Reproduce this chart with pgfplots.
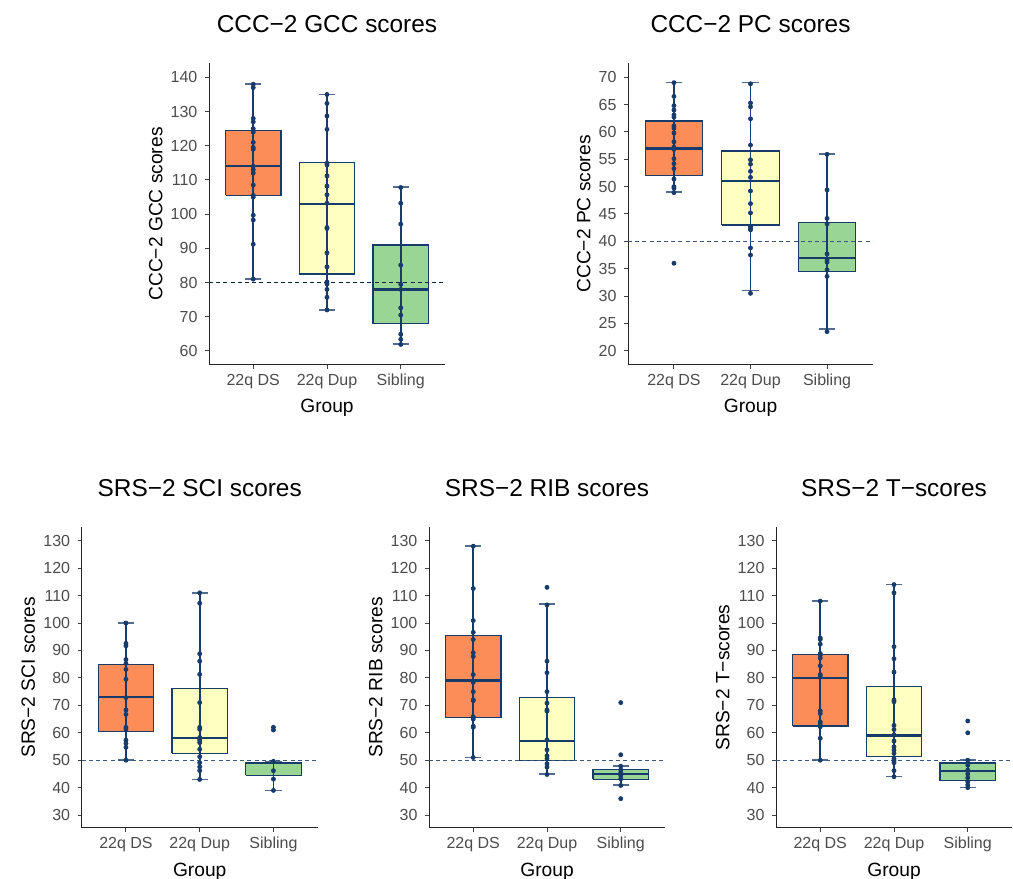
\documentclass[border=0pt]{standalone}
\usepackage{pgfplots}
\pgfplotsset{compat=1.18}
\usepackage{fontspec}
\setmainfont{Liberation Sans}
\definecolor{cDS}{HTML}{FC8D59}
\definecolor{cDup}{HTML}{FFFFBF}
\definecolor{cSib}{HTML}{99D594}
\definecolor{navy}{HTML}{173B6A}
\pgfplotsset{
  panel/.style={
    scale only axis, anchor=south west,
    axis x line*=bottom, axis y line*=left,
    axis line style={-, black!85, line width=0.5pt},
    xmin=-0.6, xmax=2.6, xtick={0,1,2}, xticklabels={22q DS,22q Dup,Sibling},
    tick align=outside, major tick length=2pt,
    tick style={black!75, line width=0.5pt},
    ticklabel style={font=\fontsize{8}{9}\selectfont, text=black!70},
    /pgf/number format/assume math mode=true,
    xticklabel style={anchor=base, yshift=-8.35pt},
    yticklabel style={anchor=east, inner sep=0pt, xshift=-3.6pt},
    xlabel={Group},
    xlabel style={font=\fontsize{9.6}{11}\selectfont, at={(axis description cs:0.5,0)}, anchor=base, yshift=-24pt},
    title style={font=\fontsize{12.2}{14}\selectfont, at={(axis description cs:0.5,1)}, anchor=base, yshift=9.3pt},
    ylabel style={font=\fontsize{9.6}{11}\selectfont, anchor=base},
  },
  capst/.style={navy!75, line width=0.8pt},
  boxst/.style={draw=navy, fill=#1, line width=0.6pt, line join=miter},
  medst/.style={navy, line width=1.2pt},
  wl/.style={navy, line width=0.9pt},
  pts/.style={only marks, mark=*, mark size=1pt, navy, mark options={draw=navy, fill=navy}},
  hl/.style={dash pattern=on 2pt off 1.6pt, line width=0.5pt, #1},
}
% args: lower whisker, q1, median, q3, upper whisker, fill colour
\newcommand\bxA[6]{%
  \addplot[capst] coordinates {(-0.11,#1) (0.11,#1)};
  \addplot[capst] coordinates {(-0.11,#5) (0.11,#5)};
  \addplot[boxst=#6] coordinates {(-0.375,#2) (0.375,#2) (0.375,#4) (-0.375,#4) (-0.375,#2)};
  \addplot[medst] coordinates {(-0.375,#3) (0.375,#3)};
  \addplot[wl] coordinates {(0,#1) (0,#5)};
}
\newcommand\bxB[6]{%
  \addplot[capst] coordinates {(0.89,#1) (1.11,#1)};
  \addplot[capst] coordinates {(0.89,#5) (1.11,#5)};
  \addplot[boxst=#6] coordinates {(0.625,#2) (1.375,#2) (1.375,#4) (0.625,#4) (0.625,#2)};
  \addplot[medst] coordinates {(0.625,#3) (1.375,#3)};
  \addplot[wl] coordinates {(1,#1) (1,#5)};
}
\newcommand\bxC[6]{%
  \addplot[capst] coordinates {(1.89,#1) (2.11,#1)};
  \addplot[capst] coordinates {(1.89,#5) (2.11,#5)};
  \addplot[boxst=#6] coordinates {(1.625,#2) (2.375,#2) (2.375,#4) (1.625,#4) (1.625,#2)};
  \addplot[medst] coordinates {(1.625,#3) (2.375,#3)};
  \addplot[wl] coordinates {(2,#1) (2,#5)};
}
\begin{document}
\begin{tikzpicture}
\path[use as bounding box] (0,0) rectangle (506.5pt,439.5pt);
% ---------- CCC-2 GCC
\begin{axis}[panel, at={(104.5pt,257pt)}, width=118pt, height=151pt,
  ymin=55.9, ymax=144.2, ytick={60,70,...,140},
  title={CCC−2 GCC scores}, ylabel={CCC−2 GCC scores},
  ylabel style={at={(axis description cs:-0.198,0.5)}}]
\bxA{81}{105.5}{114}{124.5}{138}{cDS}
\bxB{72}{82.5}{103}{115}{135}{cDup}
\bxC{62}{68}{78}{91}{108}{cSib}
\addplot[pts] coordinates {(0,138) (0,137) (0,128) (0,127) (0,125) (0,124) (0,121) (0,119.5) (0,119) (0,114) (0,113) (0,112) (0,108.5) (0,105.5) (0,105) (0,99.7) (0,98.3) (0,91.2) (0,81)};
\addplot[pts] coordinates {(1,135) (1,132.4) (1,128.7) (1,124.8) (1,114.9) (1,114.4) (1,111.2) (1,108.2) (1,105.7) (1,103.2) (1,96.1) (1,95.8) (1,88.7) (1,84.6) (1,80.2) (1,79.6) (1,78) (1,75.7) (1,72)};
\addplot[pts] coordinates {(2,107.8) (2,103.2) (2,97.1) (2,85.1) (2,79.5) (2,78) (2,72.6) (2,70.5) (2,64.9) (2,63.4) (2,61.9)};
\addplot[hl=navy!60!black] coordinates {(-0.6,80) (2.6,80)};
\end{axis}
% ---------- CCC-2 PC
\begin{axis}[panel, at={(314pt,257pt)}, width=122.5pt, height=151pt,
  ymin=17.4, ymax=72.6, ytick={20,25,...,70},
  title={CCC−2 PC scores}, ylabel={CCC−2 PC scores},
  ylabel style={at={(axis description cs:-0.154,0.5)}}]
\bxA{49}{52}{57}{62}{69}{cDS}
\bxB{31}{43}{51}{56.5}{69}{cDup}
\bxC{24}{34.5}{37}{43.5}{56}{cSib}
\addplot[pts] coordinates {(0,69) (0,66.5) (0,64.8) (0,64) (0,63.1) (0,62.7) (0,61.1) (0,60.7) (0,59.8) (0,58.2) (0,57.2) (0,56.8) (0,55.1) (0,54.2) (0,53.3) (0,51.4) (0,50) (0,49.7) (0,48.9) (0,36)};
\addplot[pts] coordinates {(1,68.8) (1,65.3) (1,64.6) (1,62.4) (1,57.6) (1,54.9) (1,54.1) (1,52.8) (1,51.7) (1,49.2) (1,46.9) (1,45.2) (1,42.7) (1,42.4) (1,42.1) (1,38.8) (1,37.5) (1,30.5)};
\addplot[pts] coordinates {(2,55.9) (2,49.4) (2,44.2) (2,43.2) (2,37.7) (2,36.6) (2,36.2) (2,34.8) (2,33.6) (2,23.5)};
\addplot[hl=navy!85] coordinates {(-0.6,40) (2.6,40)};
\end{axis}
% ---------- SRS-2 SCI
\begin{axis}[panel, at={(40.85pt,25.5pt)}, width=118pt, height=150.5pt,
  ymin=25.3, ymax=135, ytick={30,40,...,130},
  title={SRS−2 SCI scores}, ylabel={SRS−2 SCI scores},
  ylabel style={at={(axis description cs:-0.198,0.5)}}]
\bxA{50}{60.5}{73}{85}{100}{cDS}
\bxB{43}{52.5}{58}{76}{111}{cDup}
\bxC{39}{44.5}{49}{49}{49.5}{cSib}
\addplot[pts] coordinates {(0,100) (0,92.6) (0,91.7) (0,86.7) (0,85.3) (0,83.1) (0,79.5) (0,72.8) (0,68.3) (0,66.7) (0,62) (0,61.3) (0,57.3) (0,56.1) (0,54.7) (0,50)};
\addplot[pts] coordinates {(1,111) (1,107.2) (1,88.8) (1,86.1) (1,81.3) (1,71) (1,62) (1,61.3) (1,58.3) (1,57.3) (1,56.4) (1,54) (1,51.3) (1,49.1) (1,47.6) (1,46.2) (1,43)};
\addplot[pts] coordinates {(2,62) (2,61) (2,49.6) (2,46.2) (2,43.1) (2,39)};
\addplot[hl=navy!85] coordinates {(-0.6,50) (2.6,50)};
\end{axis}
% ---------- SRS-2 RIB
\begin{axis}[panel, at={(214.5pt,25.5pt)}, width=118pt, height=150.5pt,
  ymin=25.3, ymax=135, ytick={30,40,...,130},
  title={SRS−2 RIB scores}, ylabel={SRS−2 RIB scores},
  ylabel style={at={(axis description cs:-0.198,0.5)}}]
\bxA{51}{65.5}{79}{95.5}{128}{cDS}
\bxB{45}{50}{57}{73}{107}{cDup}
\bxC{41}{43}{45}{46.5}{48}{cSib}
\addplot[pts] coordinates {(0,128) (0,112.6) (0,100.9) (0,96.6) (0,94) (0,89.2) (0,87.8) (0,81.2) (0,78.4) (0,75) (0,72) (0,71.7) (0,65.9) (0,65) (0,62.4) (0,62) (0,51)};
\addplot[pts] coordinates {(1,113) (1,106.6) (1,86.1) (1,81.9) (1,75) (1,70.8) (1,68.3) (1,67.9) (1,57.4) (1,53.8) (1,51.6) (1,50.6) (1,48.7) (1,47.5) (1,44.8)};
\addplot[pts] coordinates {(2,71) (2,52) (2,47.8) (2,46.5) (2,45.4) (2,44.4) (2,43.2) (2,40.8) (2,36)};
\addplot[hl=navy!85] coordinates {(-0.6,50) (2.6,50)};
\end{axis}
% ---------- SRS-2 T
\begin{axis}[panel, at={(388pt,25.5pt)}, width=118pt, height=150.5pt,
  ymin=25.3, ymax=135, ytick={30,40,...,130},
  title={SRS−2 T−scores}, ylabel={SRS−2 T−scores},
  ylabel style={at={(axis description cs:-0.198,0.5)}}]
\bxA{50}{62.5}{80}{88.5}{108}{cDS}
\bxB{44}{51.5}{59}{77}{114}{cDup}
\bxC{40}{42.5}{46}{49}{50}{cSib}
\addplot[pts] coordinates {(0,108) (0,94.6) (0,94) (0,92.3) (0,88.9) (0,88.3) (0,87.2) (0,84.4) (0,81.2) (0,80.7) (0,68) (0,67) (0,64) (0,63.2) (0,62.2) (0,58) (0,50)};
\addplot[pts] coordinates {(1,114) (1,111) (1,91.4) (1,87) (1,82.1) (1,71.9) (1,71.3) (1,62.7) (1,61.2) (1,59.2) (1,57) (1,54.9) (1,53.7) (1,52.5) (1,50.5) (1,49.8) (1,49.1) (1,46.2) (1,44)};
\addplot[pts] coordinates {(2,64.3) (2,60) (2,50) (2,48.2) (2,46.4) (2,45) (2,43.6) (2,42.2) (2,41) (2,40)};
\addplot[hl=navy!85] coordinates {(-0.6,50) (2.6,50)};
\end{axis}
\end{tikzpicture}
\end{document}
